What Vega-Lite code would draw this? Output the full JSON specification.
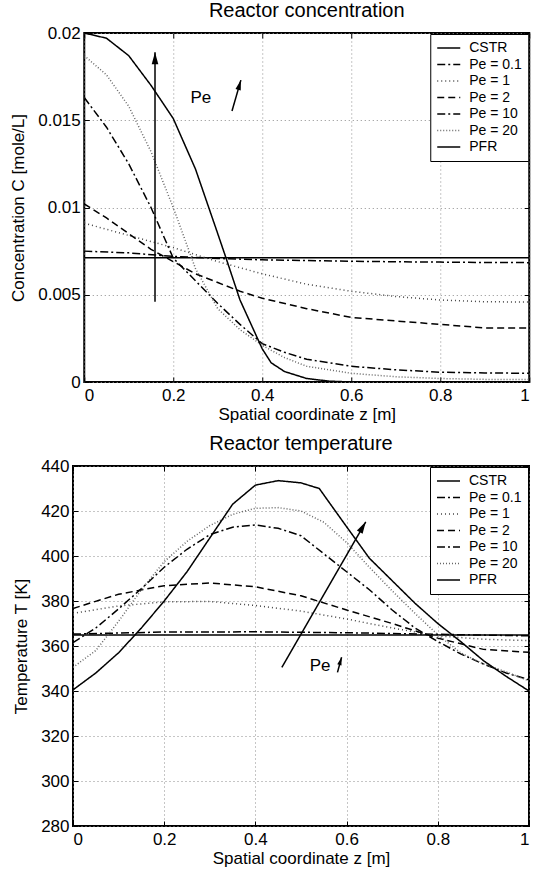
{
  "$schema": "https://vega.github.io/schema/vega-lite/v6.json",
  "background": "white",
  "padding": {"left": 8, "top": 0, "right": 2, "bottom": 0},
  "spacing": 10,
  "center": true,
  "datasets": {
    "conc": [
      {"s": "CSTR", "z": 0, "C": 0.00712}, {"s": "CSTR", "z": 1, "C": 0.00712},
      {"s": "Pe = 0.1", "z": 0, "C": 0.0075}, {"s": "Pe = 0.1", "z": 0.1, "C": 0.0074}, {"s": "Pe = 0.1", "z": 0.2, "C": 0.0072}, {"s": "Pe = 0.1", "z": 0.3, "C": 0.00708}, {"s": "Pe = 0.1", "z": 0.4, "C": 0.007}, {"s": "Pe = 0.1", "z": 0.5, "C": 0.00696}, {"s": "Pe = 0.1", "z": 0.6, "C": 0.00692}, {"s": "Pe = 0.1", "z": 0.7, "C": 0.00689}, {"s": "Pe = 0.1", "z": 0.8, "C": 0.00687}, {"s": "Pe = 0.1", "z": 0.9, "C": 0.00685}, {"s": "Pe = 0.1", "z": 1, "C": 0.00684},
      {"s": "Pe = 1", "z": 0, "C": 0.0091}, {"s": "Pe = 1", "z": 0.1, "C": 0.0084}, {"s": "Pe = 1", "z": 0.2, "C": 0.0077}, {"s": "Pe = 1", "z": 0.3, "C": 0.0069}, {"s": "Pe = 1", "z": 0.4, "C": 0.0062}, {"s": "Pe = 1", "z": 0.5, "C": 0.0056}, {"s": "Pe = 1", "z": 0.6, "C": 0.0052}, {"s": "Pe = 1", "z": 0.7, "C": 0.0049}, {"s": "Pe = 1", "z": 0.8, "C": 0.0047}, {"s": "Pe = 1", "z": 0.9, "C": 0.0046}, {"s": "Pe = 1", "z": 1, "C": 0.00458},
      {"s": "Pe = 2", "z": 0, "C": 0.0102}, {"s": "Pe = 2", "z": 0.05, "C": 0.0094}, {"s": "Pe = 2", "z": 0.1, "C": 0.0085}, {"s": "Pe = 2", "z": 0.15, "C": 0.0076}, {"s": "Pe = 2", "z": 0.2, "C": 0.0069}, {"s": "Pe = 2", "z": 0.25, "C": 0.0062}, {"s": "Pe = 2", "z": 0.3, "C": 0.0057}, {"s": "Pe = 2", "z": 0.35, "C": 0.0052}, {"s": "Pe = 2", "z": 0.4, "C": 0.0048}, {"s": "Pe = 2", "z": 0.5, "C": 0.0042}, {"s": "Pe = 2", "z": 0.6, "C": 0.0037}, {"s": "Pe = 2", "z": 0.7, "C": 0.0035}, {"s": "Pe = 2", "z": 0.8, "C": 0.0033}, {"s": "Pe = 2", "z": 0.9, "C": 0.0031}, {"s": "Pe = 2", "z": 1, "C": 0.0031},
      {"s": "Pe = 10", "z": 0, "C": 0.0163}, {"s": "Pe = 10", "z": 0.05, "C": 0.0146}, {"s": "Pe = 10", "z": 0.1, "C": 0.0125}, {"s": "Pe = 10", "z": 0.15, "C": 0.01}, {"s": "Pe = 10", "z": 0.2, "C": 0.0071}, {"s": "Pe = 10", "z": 0.25, "C": 0.0058}, {"s": "Pe = 10", "z": 0.3, "C": 0.0045}, {"s": "Pe = 10", "z": 0.35, "C": 0.0033}, {"s": "Pe = 10", "z": 0.4, "C": 0.0022}, {"s": "Pe = 10", "z": 0.45, "C": 0.0017}, {"s": "Pe = 10", "z": 0.5, "C": 0.0013}, {"s": "Pe = 10", "z": 0.6, "C": 0.0009}, {"s": "Pe = 10", "z": 0.7, "C": 0.0007}, {"s": "Pe = 10", "z": 0.8, "C": 0.00056}, {"s": "Pe = 10", "z": 0.9, "C": 0.00052}, {"s": "Pe = 10", "z": 1, "C": 0.0005},
      {"s": "Pe = 20", "z": 0, "C": 0.0187}, {"s": "Pe = 20", "z": 0.05, "C": 0.0176}, {"s": "Pe = 20", "z": 0.1, "C": 0.0158}, {"s": "Pe = 20", "z": 0.15, "C": 0.0132}, {"s": "Pe = 20", "z": 0.2, "C": 0.01}, {"s": "Pe = 20", "z": 0.25, "C": 0.0065}, {"s": "Pe = 20", "z": 0.3, "C": 0.0042}, {"s": "Pe = 20", "z": 0.35, "C": 0.003}, {"s": "Pe = 20", "z": 0.4, "C": 0.0021}, {"s": "Pe = 20", "z": 0.45, "C": 0.0014}, {"s": "Pe = 20", "z": 0.5, "C": 0.0009}, {"s": "Pe = 20", "z": 0.6, "C": 0.0005}, {"s": "Pe = 20", "z": 0.7, "C": 0.0003}, {"s": "Pe = 20", "z": 0.8, "C": 0.0002}, {"s": "Pe = 20", "z": 0.9, "C": 0.00015}, {"s": "Pe = 20", "z": 1, "C": 0.00015},
      {"s": "PFR", "z": 0, "C": 0.02}, {"s": "PFR", "z": 0.05, "C": 0.0197}, {"s": "PFR", "z": 0.1, "C": 0.0187}, {"s": "PFR", "z": 0.15, "C": 0.017}, {"s": "PFR", "z": 0.2, "C": 0.0151}, {"s": "PFR", "z": 0.25, "C": 0.0122}, {"s": "PFR", "z": 0.3, "C": 0.0085}, {"s": "PFR", "z": 0.32, "C": 0.007}, {"s": "PFR", "z": 0.35, "C": 0.0047}, {"s": "PFR", "z": 0.4, "C": 0.0019}, {"s": "PFR", "z": 0.42, "C": 0.0011}, {"s": "PFR", "z": 0.45, "C": 0.0006}, {"s": "PFR", "z": 0.5, "C": 0.0002}, {"s": "PFR", "z": 0.55, "C": 0.00005}, {"s": "PFR", "z": 0.6, "C": 0}, {"s": "PFR", "z": 1, "C": 0}
    ],
    "temp": [
      {"s": "CSTR", "z": 0, "T": 364.9}, {"s": "CSTR", "z": 1, "T": 364.9},
      {"s": "Pe = 0.1", "z": 0, "T": 365.3}, {"s": "Pe = 0.1", "z": 0.2, "T": 366.2}, {"s": "Pe = 0.1", "z": 0.4, "T": 366.3}, {"s": "Pe = 0.1", "z": 0.6, "T": 365.9}, {"s": "Pe = 0.1", "z": 0.8, "T": 365.2}, {"s": "Pe = 0.1", "z": 1, "T": 364.5},
      {"s": "Pe = 1", "z": 0, "T": 374.5}, {"s": "Pe = 1", "z": 0.1, "T": 377.8}, {"s": "Pe = 1", "z": 0.2, "T": 379.6}, {"s": "Pe = 1", "z": 0.3, "T": 379.8}, {"s": "Pe = 1", "z": 0.4, "T": 378}, {"s": "Pe = 1", "z": 0.5, "T": 375.5}, {"s": "Pe = 1", "z": 0.6, "T": 372}, {"s": "Pe = 1", "z": 0.7, "T": 368}, {"s": "Pe = 1", "z": 0.8, "T": 364.5}, {"s": "Pe = 1", "z": 0.9, "T": 363}, {"s": "Pe = 1", "z": 1, "T": 362.4},
      {"s": "Pe = 2", "z": 0, "T": 376.7}, {"s": "Pe = 2", "z": 0.1, "T": 383}, {"s": "Pe = 2", "z": 0.2, "T": 386.8}, {"s": "Pe = 2", "z": 0.3, "T": 388}, {"s": "Pe = 2", "z": 0.4, "T": 386.3}, {"s": "Pe = 2", "z": 0.5, "T": 382.3}, {"s": "Pe = 2", "z": 0.6, "T": 376}, {"s": "Pe = 2", "z": 0.7, "T": 370}, {"s": "Pe = 2", "z": 0.8, "T": 363.5}, {"s": "Pe = 2", "z": 0.9, "T": 358.5}, {"s": "Pe = 2", "z": 1, "T": 357.2},
      {"s": "Pe = 10", "z": 0, "T": 361.5}, {"s": "Pe = 10", "z": 0.05, "T": 368}, {"s": "Pe = 10", "z": 0.1, "T": 376.5}, {"s": "Pe = 10", "z": 0.15, "T": 385.5}, {"s": "Pe = 10", "z": 0.2, "T": 395}, {"s": "Pe = 10", "z": 0.25, "T": 403}, {"s": "Pe = 10", "z": 0.3, "T": 409.5}, {"s": "Pe = 10", "z": 0.35, "T": 412.8}, {"s": "Pe = 10", "z": 0.4, "T": 413.8}, {"s": "Pe = 10", "z": 0.45, "T": 412.3}, {"s": "Pe = 10", "z": 0.5, "T": 409}, {"s": "Pe = 10", "z": 0.55, "T": 401}, {"s": "Pe = 10", "z": 0.6, "T": 393}, {"s": "Pe = 10", "z": 0.65, "T": 385}, {"s": "Pe = 10", "z": 0.7, "T": 376}, {"s": "Pe = 10", "z": 0.75, "T": 368}, {"s": "Pe = 10", "z": 0.8, "T": 362}, {"s": "Pe = 10", "z": 0.85, "T": 356.5}, {"s": "Pe = 10", "z": 0.9, "T": 352}, {"s": "Pe = 10", "z": 0.95, "T": 348}, {"s": "Pe = 10", "z": 1, "T": 345},
      {"s": "Pe = 20", "z": 0, "T": 350.5}, {"s": "Pe = 20", "z": 0.05, "T": 358}, {"s": "Pe = 20", "z": 0.1, "T": 371}, {"s": "Pe = 20", "z": 0.15, "T": 385}, {"s": "Pe = 20", "z": 0.2, "T": 397.5}, {"s": "Pe = 20", "z": 0.25, "T": 406.5}, {"s": "Pe = 20", "z": 0.3, "T": 413.5}, {"s": "Pe = 20", "z": 0.35, "T": 418.5}, {"s": "Pe = 20", "z": 0.4, "T": 421.2}, {"s": "Pe = 20", "z": 0.45, "T": 421.5}, {"s": "Pe = 20", "z": 0.5, "T": 420}, {"s": "Pe = 20", "z": 0.55, "T": 415}, {"s": "Pe = 20", "z": 0.6, "T": 406}, {"s": "Pe = 20", "z": 0.65, "T": 395}, {"s": "Pe = 20", "z": 0.7, "T": 384.5}, {"s": "Pe = 20", "z": 0.75, "T": 374.5}, {"s": "Pe = 20", "z": 0.8, "T": 365}, {"s": "Pe = 20", "z": 0.85, "T": 357}, {"s": "Pe = 20", "z": 0.9, "T": 352}, {"s": "Pe = 20", "z": 0.95, "T": 348.5}, {"s": "Pe = 20", "z": 1, "T": 344.5},
      {"s": "PFR", "z": 0, "T": 340.5}, {"s": "PFR", "z": 0.05, "T": 348}, {"s": "PFR", "z": 0.1, "T": 357}, {"s": "PFR", "z": 0.15, "T": 368}, {"s": "PFR", "z": 0.2, "T": 380}, {"s": "PFR", "z": 0.25, "T": 393}, {"s": "PFR", "z": 0.3, "T": 408}, {"s": "PFR", "z": 0.35, "T": 423}, {"s": "PFR", "z": 0.4, "T": 431.5}, {"s": "PFR", "z": 0.45, "T": 433.5}, {"s": "PFR", "z": 0.5, "T": 432.5}, {"s": "PFR", "z": 0.54, "T": 430}, {"s": "PFR", "z": 0.6, "T": 413}, {"s": "PFR", "z": 0.65, "T": 399}, {"s": "PFR", "z": 0.7, "T": 389}, {"s": "PFR", "z": 0.75, "T": 379}, {"s": "PFR", "z": 0.8, "T": 370}, {"s": "PFR", "z": 0.85, "T": 362}, {"s": "PFR", "z": 0.9, "T": 353.5}, {"s": "PFR", "z": 0.95, "T": 346.5}, {"s": "PFR", "z": 1, "T": 340}
    ],
    "carrows": [
      {"k": "big", "z": 0.159, "C": 0.0046, "z2": 0.159, "C2": 0.0189},
      {"k": "small", "z": 0.332, "C": 0.01553, "z2": 0.352, "C2": 0.0173}
    ],
    "tarrows": [
      {"k": "big", "z": 0.458, "T": 350.5, "z2": 0.642, "T2": 415.2},
      {"k": "small", "z": 0.58, "T": 348.3, "z2": 0.589, "T2": 355}
    ],
    "clabel": [{"z": 0.262, "C": 0.0163, "t": "Pe"}],
    "tlabel": [{"z": 0.542, "T": 351.3, "t": "Pe"}]
  },
  "resolve": {"scale": {"strokeDash": "independent", "color": "independent"}, "legend": {"strokeDash": "independent", "color": "independent"}},
  "vconcat": [
    {
      "width": 445,
      "height": 349,
      "title": "Reactor concentration",
      "resolve": {"axis": {"x": "independent", "y": "independent"}},
      "layer": [
        {
          "data": {"name": "conc"},
          "mark": {"type": "line", "strokeWidth": 1.5, "clip": true},
          "encoding": {
            "x": {"field": "z", "type": "quantitative", "scale": {"domain": [0, 1], "nice": false}, "axis": {"values": [0, 0.2, 0.4, 0.6, 0.8, 1], "format": "~g", "title": "Spatial coordinate z [m]"}},
            "y": {"field": "C", "type": "quantitative", "scale": {"domain": [0, 0.02], "nice": false}, "axis": {"values": [0, 0.005, 0.01, 0.015, 0.02], "format": "~g", "title": "Concentration C [mole/L]"}},
            "strokeDash": {"field": "s", "type": "nominal", "scale": {"domain": ["CSTR", "Pe = 0.1", "Pe = 1", "Pe = 2", "Pe = 10", "Pe = 20", "PFR"], "range": [[1, 0], [8, 3, 2, 3], [1, 3], [7, 4], [8, 3, 2, 3], [1, 2], [1, 0]]}, "legend": {"title": null}},
            "color": {"field": "s", "type": "nominal", "scale": {"domain": ["CSTR", "Pe = 0.1", "Pe = 1", "Pe = 2", "Pe = 10", "Pe = 20", "PFR"], "range": ["black", "black", "#444", "black", "black", "#666", "black"]}, "legend": {"title": null}}
          }
        },
        {
          "data": {"name": "carrows"},
          "mark": {"type": "rule", "strokeWidth": 1.5, "color": "black"},
          "encoding": {
            "x": {"field": "z", "type": "quantitative", "axis": {"orient": "top", "values": [0, 0.2, 0.4, 0.6, 0.8, 1], "labels": false, "grid": false, "title": null, "minExtent": 0, "maxExtent": 0}},
            "y": {"field": "C", "type": "quantitative", "axis": {"orient": "right", "values": [0, 0.005, 0.01, 0.015, 0.02], "labels": false, "grid": false, "title": null, "minExtent": 0, "maxExtent": 0}},
            "x2": {"field": "z2"}, "y2": {"field": "C2"}
          }
        },
        {
          "data": {"name": "carrows"},
          "transform": [{"filter": "datum.k == 'big'"}],
          "mark": {"type": "point", "shape": "M0,0L-0.55,2L0.55,2Z", "size": 144, "filled": true, "color": "black", "opacity": 1, "angle": 0},
          "encoding": {"x": {"field": "z2", "type": "quantitative", "axis": null}, "y": {"field": "C2", "type": "quantitative", "axis": null}}
        },
        {
          "data": {"name": "carrows"},
          "transform": [{"filter": "datum.k == 'small'"}],
          "mark": {"type": "point", "shape": "M0,0L-0.55,2L0.55,2Z", "size": 100, "filled": true, "color": "black", "opacity": 1, "angle": 16},
          "encoding": {"x": {"field": "z2", "type": "quantitative", "axis": null}, "y": {"field": "C2", "type": "quantitative", "axis": null}}
        },
        {
          "data": {"name": "clabel"},
          "mark": {"type": "text", "fontSize": 17, "color": "black", "align": "center", "baseline": "middle"},
          "encoding": {"x": {"field": "z", "type": "quantitative", "axis": null}, "y": {"field": "C", "type": "quantitative", "axis": null}, "text": {"field": "t"}}
        }
      ]
    },
    {
      "width": 456,
      "height": 360,
      "title": "Reactor temperature",
      "resolve": {"axis": {"x": "independent", "y": "independent"}},
      "layer": [
        {
          "data": {"name": "temp"},
          "mark": {"type": "line", "strokeWidth": 1.5, "clip": true},
          "encoding": {
            "x": {"field": "z", "type": "quantitative", "scale": {"domain": [0, 1], "nice": false}, "axis": {"values": [0, 0.2, 0.4, 0.6, 0.8, 1], "format": "~g", "title": "Spatial coordinate z [m]"}},
            "y": {"field": "T", "type": "quantitative", "scale": {"domain": [280, 440], "nice": false}, "axis": {"values": [280, 300, 320, 340, 360, 380, 400, 420, 440], "title": "Temperature T [K]"}},
            "strokeDash": {"field": "s", "type": "nominal", "scale": {"domain": ["CSTR", "Pe = 0.1", "Pe = 1", "Pe = 2", "Pe = 10", "Pe = 20", "PFR"], "range": [[1, 0], [8, 3, 2, 3], [1, 3], [7, 4], [8, 3, 2, 3], [1, 2], [1, 0]]}, "legend": {"title": null}},
            "color": {"field": "s", "type": "nominal", "scale": {"domain": ["CSTR", "Pe = 0.1", "Pe = 1", "Pe = 2", "Pe = 10", "Pe = 20", "PFR"], "range": ["black", "black", "#444", "black", "black", "#666", "black"]}, "legend": {"title": null}}
          }
        },
        {
          "data": {"name": "tarrows"},
          "mark": {"type": "rule", "strokeWidth": 1.5, "color": "black"},
          "encoding": {
            "x": {"field": "z", "type": "quantitative", "axis": {"orient": "top", "values": [0, 0.2, 0.4, 0.6, 0.8, 1], "labels": false, "grid": false, "title": null, "minExtent": 0, "maxExtent": 0}},
            "y": {"field": "T", "type": "quantitative", "axis": {"orient": "right", "values": [280, 300, 320, 340, 360, 380, 400, 420, 440], "labels": false, "grid": false, "title": null, "minExtent": 12, "maxExtent": 12}},
            "x2": {"field": "z2"}, "y2": {"field": "T2"}
          }
        },
        {
          "data": {"name": "tarrows"},
          "transform": [{"filter": "datum.k == 'big'"}],
          "mark": {"type": "point", "shape": "M0,0L-0.55,2L0.55,2Z", "size": 144, "filled": true, "color": "black", "opacity": 1, "angle": 30},
          "encoding": {"x": {"field": "z2", "type": "quantitative", "axis": null}, "y": {"field": "T2", "type": "quantitative", "axis": null}}
        },
        {
          "data": {"name": "tarrows"},
          "transform": [{"filter": "datum.k == 'small'"}],
          "mark": {"type": "point", "shape": "M0,0L-0.55,2L0.55,2Z", "size": 64, "filled": true, "color": "black", "opacity": 1, "angle": 16},
          "encoding": {"x": {"field": "z2", "type": "quantitative", "axis": null}, "y": {"field": "T2", "type": "quantitative", "axis": null}}
        },
        {
          "data": {"name": "tlabel"},
          "mark": {"type": "text", "fontSize": 17, "color": "black", "align": "center", "baseline": "middle"},
          "encoding": {"x": {"field": "z", "type": "quantitative", "axis": null}, "y": {"field": "T", "type": "quantitative", "axis": null}, "text": {"field": "t"}}
        }
      ]
    }
  ],
  "config": {
    "font": "Liberation Sans",
    "view": {"stroke": "black", "strokeWidth": 2},
    "axis": {
      "domain": false,
      "grid": true,
      "gridColor": "#8c8c8c",
      "gridDash": [1, 3],
      "gridWidth": 1,
      "gridOpacity": 1,
      "ticks": true,
      "tickColor": "black",
      "tickSize": -5,
      "tickWidth": 1,
      "labelFontSize": 17,
      "labelColor": "black",
      "labelPadding": 9,
      "titleFontSize": 17,
      "titleColor": "black",
      "titleFontWeight": "normal",
      "titlePadding": 10
    },
    "axisX": {"labelPadding": 10, "titlePadding": 3},
    "title": {"fontSize": 20, "fontWeight": "normal", "color": "black", "baseline": "alphabetic", "offset": 3},
    "legend": {
      "orient": "top-right",
      "offset": 1,
      "strokeColor": "black",
      "strokeWidth": 1,
      "fillColor": "white",
      "padding": 6,
      "labelFontSize": 14,
      "labelColor": "black",
      "labelExpr": "datum.label + '   '",
      "symbolType": "stroke",
      "symbolSize": 530,
      "symbolStrokeWidth": 1.5,
      "clipHeight": 16,
      "rowPadding": 0.5,
      "labelOffset": 8
    }
  }
}
